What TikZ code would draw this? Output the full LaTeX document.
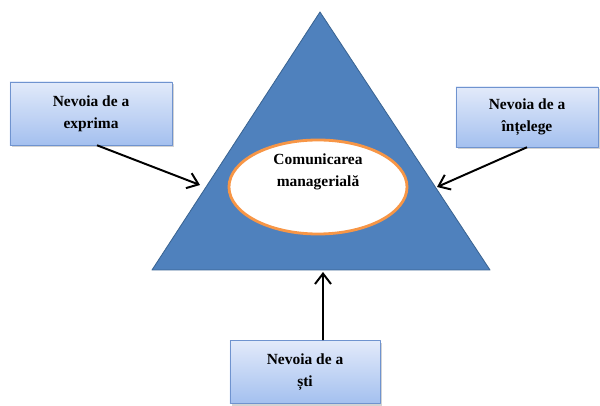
\documentclass[tikz,border=0pt]{standalone}
\usepackage{fontspec}
\setmainfont{Liberation Serif}
\usetikzlibrary{arrows.meta,shapes.geometric,shadows}
\definecolor{triblue}{HTML}{4F81BD}
\definecolor{triline}{HTML}{3A6492}
\definecolor{ovalline}{HTML}{F79646}
\definecolor{boxtop}{HTML}{E2EAFA}
\definecolor{boxbot}{HTML}{A4C0EF}
\definecolor{boxline}{HTML}{6F93CF}
\tikzset{
	nevoie/.style={draw=boxline,top color=boxtop,bottom color=boxbot,align=center,inner sep=2pt,
		drop shadow={opacity=0.35,shadow xshift=1.5pt,shadow yshift=-1.5pt}},
	sageata/.style={->,line width=1.4pt}
}
\begin{document}
\begin{tikzpicture}[x=0.025cm,y=-0.025cm,>={Straight Barb[length=2.6mm,width=4mm]},line join=round,font=\fontsize{11}{15.5}\selectfont\bfseries]
		\useasboundingbox (0,0) rectangle (600,406);
		% triunghiul
		\coordinate (T) at (320,12);
		\coordinate (S) at (152,270);
		\coordinate (D) at (490,270);
		\fill[triblue,draw=triline,line width=0.6pt] (T)--(S)--(D)--cycle;
		\node[ellipse,draw=ovalline,line width=2pt,fill=white,minimum width=4.45cm,minimum height=2.35cm] (oval) at (318,187) {};
		\node[align=center] (com) at (318,172) {Comunicarea\\managerială};
		% cele trei nevoi
		\node[nevoie,minimum width=4.05cm,minimum height=1.575cm] (exprima) at (91,113.5) {Nevoia de a\\exprima};
		\node[nevoie,minimum width=3.55cm,minimum height=1.5cm] (intelege) at (527,117) {Nevoia de a\\înțelege};
		\node[nevoie,minimum width=3.75cm,minimum height=1.575cm] (sti) at (305,372) {Nevoia de a\\ști};
		\coordinate (ls) at (200,185);
		\coordinate (ld) at (437,187);
		\coordinate (jos) at (323,272);
		\draw[sageata] ([xshift=0.15cm]exprima.south)--(ls);
		\draw[sageata] (intelege.south)--(ld);
		\draw[sageata] ([xshift=0.45cm]sti.north)--(jos);
		\end{tikzpicture}
\end{document}
